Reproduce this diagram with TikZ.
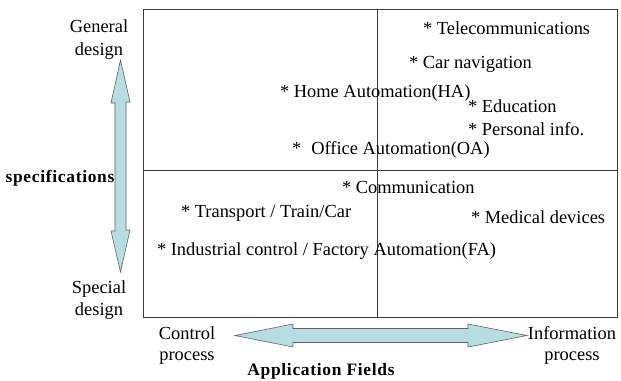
\documentclass[tikz,border=0pt]{standalone}
\usepackage{fontspec}
\setmainfont{Liberation Serif}
\newfontfamily\boldspaced[LetterSpace=4]{Liberation Serif}
\usetikzlibrary{calc}
\definecolor{arrowfill}{RGB}{183,221,226}
\definecolor{framegray}{RGB}{60,60,60}
\begin{document}
\begin{tikzpicture}[x=1bp,y=-1bp,
  every node/.style={inner sep=0pt,outer sep=0pt,font=\fontsize{18.5}{21}\selectfont},
  item/.style={anchor=base west},
  axislabel/.style={align=center,anchor=base},
  boldlabel/.style={font=\fontsize{17.5}{21}\boldspaced\bfseries,anchor=base},
  frame/.style={draw=framegray,line width=0.9bp},
  bigarrow/.style={fill=arrowfill,draw=framegray!80,line width=0.6bp,line join=miter}]
\useasboundingbox (0,0) rectangle (621,380);

% quadrant frame
\draw[frame] (143,9) rectangle (617,317);
\coordinate (vtop) at (377,9);
\coordinate (vbot) at (377,317);
\coordinate (hleft) at (143,170);
\coordinate (hright) at (617,170);
\draw[frame] (vtop) -- (vbot);
\draw[frame] (hleft) -- (hright);

% vertical double arrow (specifications)
\coordinate (vtip1) at (120.5,60);
\coordinate (vtip2) at (120.5,272);
\draw[bigarrow] (vtip1) -- ++(9.5,42) -- ++(-4,0) -- ++(0,128) -- ++(4,0)
  -- (vtip2) -- ++(-9.5,-41) -- ++(4,0) -- ++(0,-128) -- ++(-4,0) -- cycle;

% horizontal double arrow (application fields)
\coordinate (htip1) at (235,335.5);
\coordinate (htip2) at (527,335.5);
\draw[bigarrow] (htip1) -- ++(58,-11.5) -- ++(0,4.5) -- ++(175,0) -- ++(0,-4.5)
  -- (htip2) -- ++(-59,11.5) -- ++(0,-4.5) -- ++(-175,0) -- ++(0,4.5) -- cycle;

% axis labels (anchored on the baseline of their last line)
\node[axislabel,font=\fontsize{18.5}{23}\selectfont] (gen) at (99,55) {General\\design};
\node[axislabel,font=\fontsize{18.5}{22}\selectfont] (spe) at (99,315) {Special\\design};
\node[boldlabel] (specs) at (60,182) {specifications};
\node[axislabel] (ctl) at (187,360) {Control\\process};
\node[axislabel] (inf) at (572,360) {Information\\process};
\node[boldlabel] (appf) at (321,375) {Application Fields};

% application fields
\node[item] (tel) at (423,34) {* Telecommunications};
\node[item] (car) at (409,68) {* Car navigation};
\node[item] (ha) at (280,97) {* Home Automation(HA)};
\node[item] (edu) at (468,112.5) {* Education};
\node[item] (pers) at (468,135) {* Personal info.};
\node[item] (oa) at (292,154) {*\hspace{0.55em}Office Automation(OA)};
\node[item] (com) at (342,193) {* Communication};
\node[item] (trn) at (181,217) {* Transport / Train/Car};
\node[item] (med) at (471,223) {* Medical devices};
\node[item] (fa) at (157,255) {* Industrial control / Factory Automation(FA)};
\end{tikzpicture}
\end{document}
